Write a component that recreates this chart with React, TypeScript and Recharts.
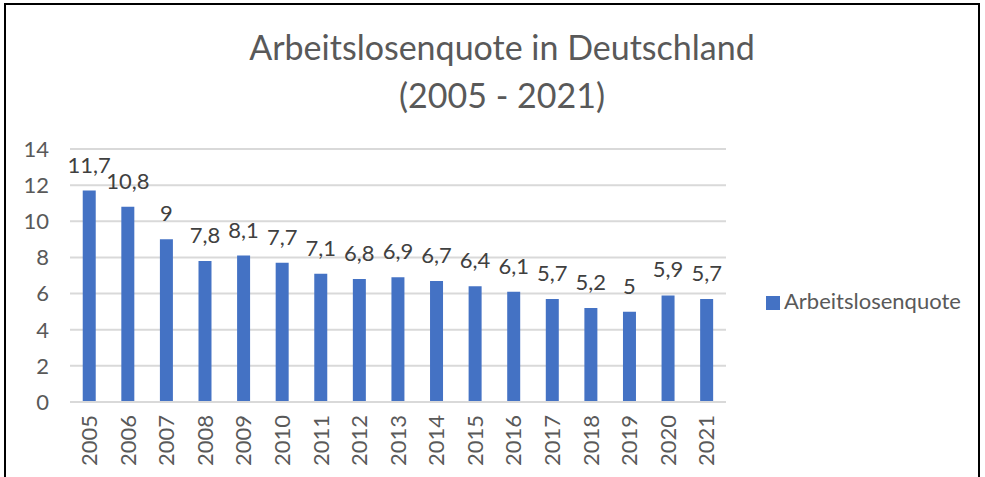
import React from 'react';
import { BarChart, Bar, XAxis, YAxis, CartesianGrid, Legend, LabelList } from 'recharts';

const years = ['2005','2006','2007','2008','2009','2010','2011','2012','2013','2014','2015','2016','2017','2018','2019','2020','2021'];
const quote = [11.7,10.8,9,7.8,8.1,7.7,7.1,6.8,6.9,6.7,6.4,6.1,5.7,5.2,5,5.9,5.7];
const yTicks = [0,2,4,6,8,10,12,14];

const data = years.map((y, i) => ({ year: y, Arbeitslosenquote: quote[i] }));

const FONT = 'Lato, "Open Sans", sans-serif';
const FS = 22;

const XTick = (props: any) => {
  const { x, y, payload } = props;
  return (
    <text x={x} y={y + 5} transform={`rotate(-90, ${x}, ${y + 5})`} textAnchor="end" dy="0.35em" fill="#595959" fontSize={FS} fontFamily={FONT}>
      {payload.value}
    </text>
  );
};

export default function App() {
  return (
    <div style={{ position: 'absolute', left: 0, top: 0, width: 985, height: 477, overflow: 'hidden', background: '#fff' }}>
      <div style={{ position: 'absolute', left: 4, top: 3, width: 972, height: 600, border: '2px solid #000' }} />
      <div style={{ position: 'absolute', left: 0, top: 23, width: 1004, textAlign: 'center', fontFamily: FONT, fontSize: 34, color: '#595959', lineHeight: '48px' }}>
        Arbeitslosenquote in Deutschland<br />(2005 - 2021)
      </div>
      <div style={{ position: 'absolute', left: 0, top: 0 }}>
        <BarChart width={985} height={477} data={data} margin={{ top: 149, right: 39, bottom: 0, left: 0 }} barCategoryGap="33%">
          <CartesianGrid vertical={false} stroke="#d9d9d9" strokeWidth={2} />
          <XAxis dataKey="year" height={75} axisLine={{ stroke: '#d9d9d9', strokeWidth: 2 }} tickLine={false} interval={0} tick={<XTick />} />
          <YAxis width={70} domain={[0, 14]} ticks={yTicks} axisLine={false} tickLine={false} tickMargin={15} tick={{ fill: '#595959', fontSize: FS, fontFamily: FONT }} />
          <Legend layout="vertical" align="right" verticalAlign="top" iconType="square" iconSize={14}
            wrapperStyle={{ left: 766, top: 287, width: 220, fontFamily: FONT, fontSize: FS }}
            formatter={(v: any) => <span style={{ color: '#595959' }}>{v}</span>} />
          <Bar dataKey="Arbeitslosenquote" fill="#4472c4" isAnimationActive={false}>
            <LabelList dataKey="Arbeitslosenquote" position="top" offset={18} fill="#404040" fontSize={FS} fontFamily={FONT}
              formatter={(v: any) => String(v).replace('.', ',')} />
          </Bar>
        </BarChart>
      </div>
    </div>
  );
}
